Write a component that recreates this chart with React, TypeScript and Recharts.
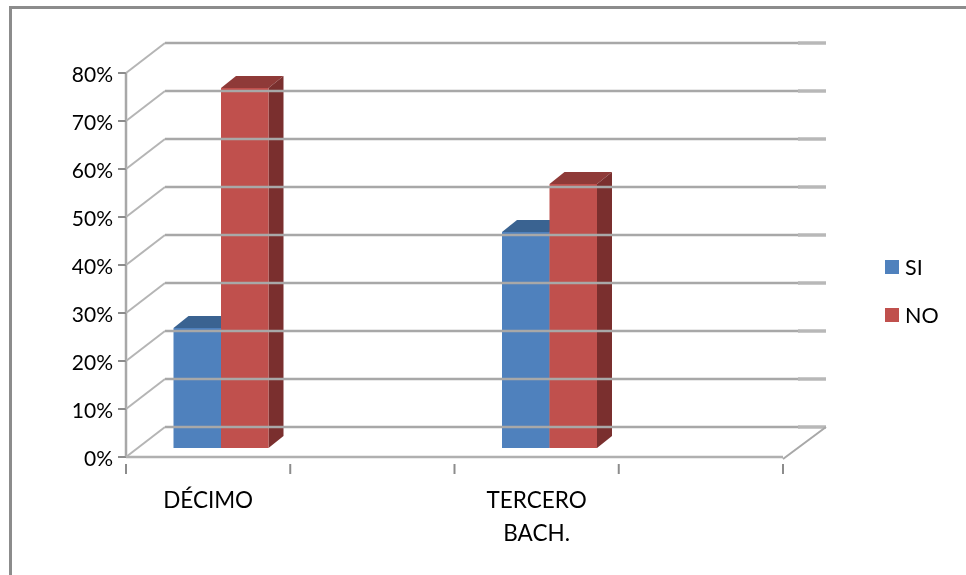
import { Bar, BarChart, Legend, XAxis, YAxis } from "recharts"

const categories = ["DÉCIMO", "", "TERCERO BACH.", ""]
const siValues = [25, null, 45, null]
const noValues = [75, null, 55, null]
const yTicks = [0, 10, 20, 30, 40, 50, 60, 70, 80]

const data = categories.map((name, i) => ({ name, si: siValues[i], no: noValues[i] }))

const font = "Lato, sans-serif"
const plotLeft = 126
const plotRight = 783
const wallX = 39
const wallY = -30
const gridRight = 826
const depthX = 15
const depthY = -12
const barShiftX = 12.5
const barShiftY = -9

// 3D look: front face plus top and side faces
function box(front: string, top: string, side: string) {
  return (props: any) => {
    const { x, y, width, height } = props
    if (!height) return null
    const l = x + barShiftX
    const r = l + width
    const t = y + barShiftY
    const b = t + height
    return (
      <g>
        <polygon points={`${l},${t} ${r},${t} ${r + depthX},${t + depthY} ${l + depthX},${t + depthY}`} fill={top} />
        <polygon points={`${r},${t} ${r + depthX},${t + depthY} ${r + depthX},${b + depthY} ${r},${b}`} fill={side} />
        <rect x={l} y={t} width={width} height={height} fill={front} />
      </g>
    )
  }
}

function WallTick(props: any) {
  const { y, payload } = props
  const wy = y + wallY
  return (
    <g>
      <line x1={plotLeft} y1={y} x2={plotLeft + wallX} y2={wy} stroke="#b5b5b5" strokeWidth={2} />
      <line x1={plotLeft + wallX} y1={wy} x2={gridRight - 26} y2={wy} stroke="#a8a8a8" strokeWidth={2.4} />
      <line x1={gridRight - 28} y1={wy} x2={gridRight} y2={wy} stroke="#b8b8b8" strokeWidth={3.5} />
      {payload.value === 0 && (
        <line x1={plotRight} y1={y + 2} x2={gridRight} y2={wy} stroke="#a8a8a8" strokeWidth={2} />
      )}
      <text x={113} y={y} textAnchor="end" dominantBaseline="central" fontFamily={font} fontSize={21} fill="#000">
        {payload.value}%
      </text>
    </g>
  )
}

function CategoryTick(props: any) {
  const { x, y, payload, index } = props
  const band = (plotRight - plotLeft) / categories.length
  const words = payload.value === "TERCERO BACH." ? ["TERCERO", "BACH."] : [payload.value]
  return (
    <g>
      <line x1={x - band / 2} y1={y - 1} x2={x - band / 2} y2={y + 9} stroke="#8c8c8c" strokeWidth={2} />
      {index === categories.length - 1 && (
        <line x1={x + band / 2} y1={y - 1} x2={x + band / 2} y2={y + 9} stroke="#8c8c8c" strokeWidth={2} />
      )}
      {words.map((w: string, i: number) => (
        <text key={i} x={x} y={y + 34 + i * 33} textAnchor="middle" dominantBaseline="central" fontFamily={font} fontSize={22.5} fill="#000">
          {w}
        </text>
      ))}
    </g>
  )
}

function LegendBox({ payload }: any) {
  const order = ["SI", "NO"]
  const items = (payload || []).slice().sort((a: any, b: any) => order.indexOf(a.value) - order.indexOf(b.value))
  return (
    <div style={{ width: 81, fontFamily: font, fontSize: 21.5, color: "#000" }}>
      {items.map((p: any) => (
        <div key={p.value} style={{ display: "flex", alignItems: "center", height: 48 }}>
          <span style={{ width: 14, height: 14, background: p.color, marginRight: 6 }} />
          {p.value}
        </div>
      ))}
    </div>
  )
}

export default function App() {
  return (
    <div style={{ position: "absolute", left: 0, top: 0, width: 966, height: 575, overflow: "hidden", background: "#fff" }}>
      <div style={{ position: "absolute", left: 9, top: 6, right: 0, bottom: 0, borderLeft: "3px solid #8c8c8c", borderTop: "3px solid #8c8c8c" }} />
      <BarChart
        width={966}
        height={575}
        data={data}
        barSize={47.5}
        barGap={0}
        margin={{ top: 73, right: 102, left: 0, bottom: 58 }}
        style={{ position: "absolute", left: 0, top: 0, filter: "blur(0.5px)" }}
      >
        <YAxis
          width={126}
          domain={[0, 80]}
          ticks={yTicks}
          interval={0}
          tick={WallTick}
          tickSize={8}
          axisLine={{ stroke: "#a8a8a8", strokeWidth: 2.5 }}
          tickLine={{ stroke: "#8c8c8c", strokeWidth: 2 }}
        />
        <XAxis
          dataKey="name"
          height={60}
          interval={0}
          tick={CategoryTick}
          tickLine={false}
          axisLine={{ stroke: "#b0b0b0", strokeWidth: 2.5 }}
        />
        <Legend
          layout="vertical"
          align="right"
          verticalAlign="top"
          wrapperStyle={{ left: 885, top: 243 }}
          content={LegendBox}
        />
        <Bar dataKey="si" name="SI" fill="#4f81bd" isAnimationActive={false} shape={box("#4f81bd", "#3a6391", "#2f4f75")} />
        <Bar dataKey="no" name="NO" fill="#c0504d" isAnimationActive={false} shape={box("#c0504d", "#8f3a38", "#7a2f2e")} />
      </BarChart>
    </div>
  )
}
